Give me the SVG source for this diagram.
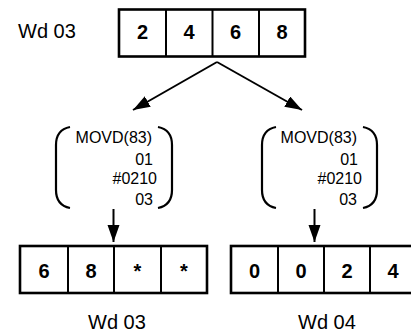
<svg xmlns="http://www.w3.org/2000/svg" width="411" height="333" viewBox="0 0 411 333">
<defs>
<marker id="ah" markerUnits="userSpaceOnUse" markerWidth="20" markerHeight="14" refX="17" refY="6" orient="auto">
<path d="M0,0 L17,6 L0,12 Z" fill="#000"/>
</marker>
<style>
.box{fill:#fff;stroke:#000;stroke-width:2.6}
.div{stroke:#000;stroke-width:2}
.cell{font-family:"Liberation Sans",Arial,sans-serif;font-weight:bold;font-size:20px;text-anchor:middle}
.lbl{font-family:"Liberation Sans",Arial,sans-serif;font-size:20px}
.ins{font-family:"Liberation Sans",Arial,sans-serif;font-size:16px;text-anchor:end}
.br{fill:none;stroke:#000;stroke-width:2.2}
.con{fill:none;stroke:#000;stroke-width:2}
</style>
</defs>
<rect width="411" height="333" fill="#fff"/>
<g id="label-top">
<text class="lbl" x="18" y="38">Wd 03</text>
</g>
<g id="src">
<rect class="box" x="119" y="9.5" width="186" height="47"/>
<line class="div" x1="166" y1="9.5" x2="166" y2="56.5"/>
<line class="div" x1="212.5" y1="9.5" x2="212.5" y2="56.5"/>
<line class="div" x1="259" y1="9.5" x2="259" y2="56.5"/>
<text class="cell" x="142.5" y="39">2</text>
<text class="cell" x="189" y="39">4</text>
<text class="cell" x="235.5" y="39">6</text>
<text class="cell" x="282" y="39">8</text>
</g>
<g id="instr-left">
<path class="br" d="M70,127 C60,129 56,135 56,145 L56,190 C56,200 60,206 70,208"/>
<path class="br" d="M158,127 C168,129 172,135 172,145 L172,190 C172,200 168,206 158,208"/>
<text class="ins" x="152" y="143">MOVD(83)</text>
<text class="ins" x="153" y="165">01</text>
<text class="ins" x="157" y="183.5">#0210</text>
<text class="ins" x="153" y="205">03</text>
</g>
<g id="instr-right">
<path class="br" d="M276,127 C266,129 262,135 262,145 L262,190 C262,200 266,206 276,208"/>
<path class="br" d="M363,127 C373,129 377,135 377,145 L377,190 C377,200 373,206 363,208"/>
<text class="ins" x="357" y="143">MOVD(83)</text>
<text class="ins" x="358" y="165">01</text>
<text class="ins" x="362" y="183.5">#0210</text>
<text class="ins" x="357" y="205">03</text>
</g>
<g id="dst-left">
<rect class="box" x="20" y="246" width="187" height="47"/>
<line class="div" x1="68" y1="246" x2="68" y2="293"/>
<line class="div" x1="114" y1="246" x2="114" y2="293"/>
<line class="div" x1="161" y1="246" x2="161" y2="293"/>
<text class="cell" x="44" y="278">6</text>
<text class="cell" x="91" y="278">8</text>
<text class="cell" x="137.5" y="278">*</text>
<text class="cell" x="184" y="278">*</text>
</g>
<g id="dst-right">
<rect class="box" x="231" y="246" width="186" height="47"/>
<line class="div" x1="278" y1="246" x2="278" y2="293"/>
<line class="div" x1="324" y1="246" x2="324" y2="293"/>
<line class="div" x1="370" y1="246" x2="370" y2="293"/>
<text class="cell" x="254.5" y="278">0</text>
<text class="cell" x="301" y="278">0</text>
<text class="cell" x="347" y="278">2</text>
<text class="cell" x="393" y="278">4</text>
</g>
<g id="label-bottom">
<text class="lbl" x="88" y="328.5">Wd 03</text>
<text class="lbl" x="298" y="328.5">Wd 04</text>
</g>
<g id="connectors">
<path class="con" d="M217,62 L133,110" marker-end="url(#ah)"/>
<path class="con" d="M217,62 L302,110" marker-end="url(#ah)"/>
<path class="con" d="M113.5,209 L113.5,242" marker-end="url(#ah)"/>
<path class="con" d="M314.5,209 L314.5,242" marker-end="url(#ah)"/>
</g>
</svg>
